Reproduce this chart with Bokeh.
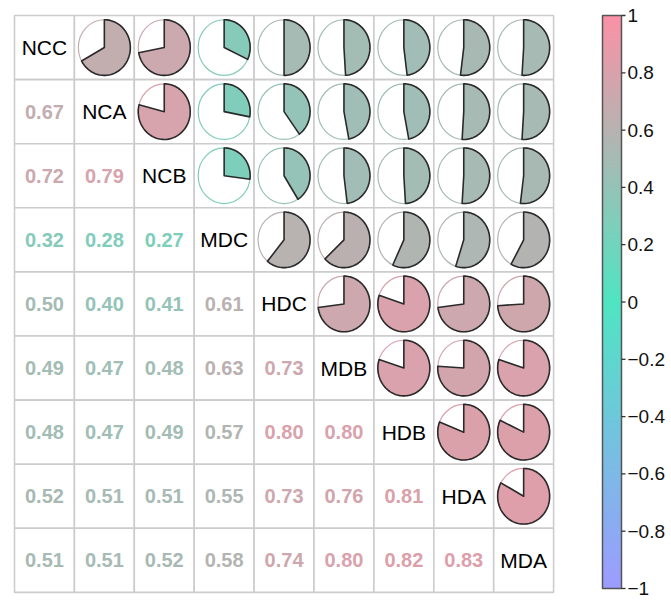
import numpy as np
from bokeh.plotting import figure
from bokeh.models import Range1d, LinearColorMapper
from bokeh.core.properties import value
from bokeh.embed import file_html
from bokeh.resources import INLINE

# Variables (row/column order) and lower-triangle correlation coefficients
variables = ["NCC", "NCA", "NCB", "MDC", "HDC", "MDB", "HDB", "HDA", "MDA"]
r_nca = [0.67]
r_ncb = [0.72, 0.79]
r_mdc = [0.32, 0.28, 0.27]
r_hdc = [0.50, 0.40, 0.41, 0.61]
r_mdb = [0.49, 0.47, 0.48, 0.63, 0.73]
r_hdb = [0.48, 0.47, 0.49, 0.57, 0.80, 0.80]
r_hda = [0.52, 0.51, 0.51, 0.55, 0.73, 0.76, 0.81]
r_mda = [0.51, 0.51, 0.52, 0.58, 0.74, 0.80, 0.82, 0.83]
lower_rows = [[], r_nca, r_ncb, r_mdc, r_hdc, r_mdb, r_hdb, r_hda, r_mda]

colorbar_ticks = [1.0, 0.8, 0.6, 0.4, 0.2, 0.0, -0.2, -0.4, -0.6, -0.8, -1.0]
colorbar_labels = ["1", "0.8", "0.6", "0.4", "0.2", "0", "\u22120.2", "\u22120.4",
                   "\u22120.6", "\u22120.8", "\u22121"]

n = len(variables)
corr = np.eye(n)
for i, row in enumerate(lower_rows):
    for j, v in enumerate(row):
        corr[i, j] = v
        corr[j, i] = v

# Three-stop colour ramp: -1 lavender, 0 turquoise, 1 pink
ramp_stops = [-1.0, 0.0, 1.0]
ramp_rgb = np.array([[156, 156, 255], [79, 229, 194], [251, 145, 166]], dtype=float)


def ramp(v):
    rgb = [np.interp(v, ramp_stops, ramp_rgb[:, k]) for k in range(3)]
    return "#%02x%02x%02x" % tuple(int(round(c)) for c in rgb)


palette = [ramp(t) for t in np.linspace(-1, 1, 256)]
mapper = LinearColorMapper(palette=palette, low=-1, high=1)

W, H = 671, 600
cell_w, cell_h = 59.9, 64.1
left_px, top_px = 14.0, 15.0

p = figure(width=W, height=H,
           x_range=Range1d(-left_px / cell_w, (W - left_px) / cell_w),
           y_range=Range1d((H - top_px) / cell_h, -top_px / cell_h),
           x_axis_type=None, y_axis_type=None,
           output_backend="svg", toolbar_location=None, min_border=0)
p.grid.visible = False
p.outline_line_color = None
p.background_fill_color = "white"
p.border_fill_color = "white"

# colour-bar value range: 1 at the grid top, -1 just above the bottom edge
cb_top_px, cb_bottom_px = 15.0, 588.0
px_per_unit = (cb_bottom_px - cb_top_px) / 2.0
p.extra_y_ranges = {"cb": Range1d(start=-1 - (H - cb_bottom_px) / px_per_unit,
                                  end=1 + cb_top_px / px_per_unit)}

# grid cells
gi, gj = np.meshgrid(np.arange(n), np.arange(n), indexing="ij")
p.quad(left=gj.ravel(), right=gj.ravel() + 1, top=gi.ravel(), bottom=gi.ravel() + 1,
       fill_color="white", line_color="#cccccc", line_width=1.6)

# diagonal: variable names
idx = np.arange(n) + 0.5
p.text(x=idx, y=idx, text=variables, text_align="center", text_baseline="middle",
       text_font=value("Liberation Sans"), text_font_size="21px", text_color="black")

# lower triangle: coefficients as coloured numbers
lx, ly, ltxt, lcol = [], [], [], []
for i in range(n):
    for j in range(i):
        v = corr[i, j]
        lx.append(j + 0.5)
        ly.append(i + 0.5)
        ltxt.append("%.2f" % v)
        lcol.append(ramp(v))
p.text(x=lx, y=ly, text=ltxt, text_color=lcol, text_align="center",
       text_baseline="middle", text_font=value("Liberation Sans"),
       text_font_size="20px", text_font_style="bold")

# upper triangle: pies filled clockwise from 12 o'clock
radius = 0.434
cx, cy, ccol, wxs, wys, wcol = [], [], [], [], [], []
for i in range(n):
    for j in range(i + 1, n):
        v = corr[i, j]
        x0, y0 = j + 0.5, i + 0.5
        cx.append(x0)
        cy.append(y0)
        ccol.append(ramp(v))
        theta = np.linspace(0, 2 * np.pi * abs(v), max(int(120 * abs(v)), 2))
        wxs.append([x0] + list(x0 + radius * np.sin(theta)) + [x0])
        wys.append([y0] + list(y0 - radius * np.cos(theta)) + [y0])
        wcol.append(ramp(v))

p.ellipse(x=cx, y=cy, width=2 * radius, height=2 * radius, fill_color=None,
          line_color=ccol, line_width=1.2)
p.patches(xs=wxs, ys=wys, fill_color=wcol, line_color="#2a2a2a", line_width=1.6,
          line_join="round")

# colour bar
cb_left = (602 - left_px) / cell_w
cb_right = (621 - left_px) / cell_w
grad = np.linspace(-1, 1, 256).reshape(256, 1)
p.image(image=[grad], x=cb_left, y=-1, dw=cb_right - cb_left, dh=2,
        color_mapper=mapper, y_range_name="cb")
p.quad(left=[cb_left], right=[cb_right], bottom=[-1], top=[1], fill_color=None,
       line_color="#555555", line_width=1.5, y_range_name="cb")
p.segment(x0=[cb_right] * len(colorbar_ticks), x1=[cb_right + 4 / cell_w] * len(colorbar_ticks),
          y0=colorbar_ticks, y1=colorbar_ticks, line_color="#333333", line_width=1.3,
          y_range_name="cb")
p.text(x=[cb_right + 6 / cell_w] * len(colorbar_ticks), y=colorbar_ticks,
       text=colorbar_labels, text_align="left", text_baseline="middle",
       text_font=value("Liberation Sans"), text_font_size="19px", text_color="#111111",
       y_range_name="cb")

open("out.html", "w").write(file_html(p, INLINE))
